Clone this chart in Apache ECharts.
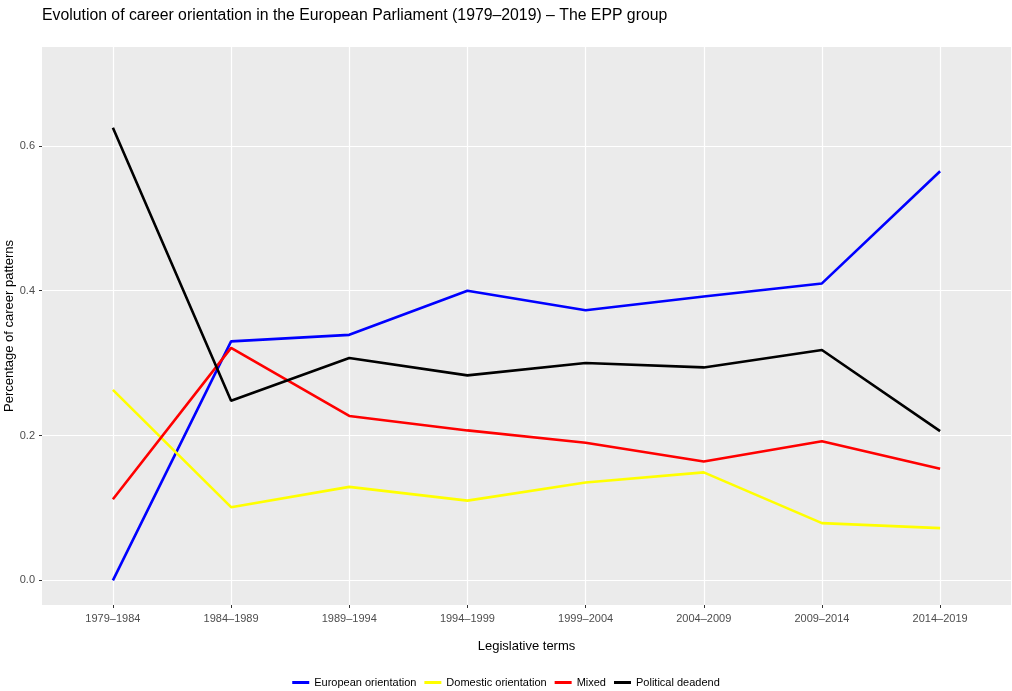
<!DOCTYPE html>
<html>
<head>
<meta charset="utf-8">
<script src="https://cdn.jsdelivr.net/npm/echarts@6/dist/echarts.min.js"></script>
<style>
html,body{margin:0;padding:0;background:#fff;}
#chart{width:1012px;height:691px;}
</style>
</head>
<body>
<div id="chart"></div>
<script>
const terms = ['1979\u20131984','1984\u20131989','1989\u20131994','1994\u20131999','1999\u20132004','2004\u20132009','2009\u20132014','2014\u20132019'];
const european = [0.000, 0.330, 0.339, 0.400, 0.373, 0.392, 0.410, 0.565];
const domestic = [0.263, 0.101, 0.129, 0.110, 0.135, 0.149, 0.079, 0.072];
const mixed    = [0.112, 0.321, 0.227, 0.207, 0.190, 0.164, 0.192, 0.154];
const deadend  = [0.625, 0.248, 0.307, 0.283, 0.300, 0.294, 0.318, 0.206];
const yTicks = [0, 0.2, 0.4, 0.6];
const yTickLabels = ['0.0', '0.2', '0.4', '0.6'];

const seriesDefs = [
  {name: 'European orientation', data: european, color: '#0000FF'},
  {name: 'Domestic orientation', data: domestic, color: '#FFFF00'},
  {name: 'Mixed', data: mixed, color: '#FF0000'},
  {name: 'Political deadend', data: deadend, color: '#000000'}
];

const font = 'Liberation Sans, Arial, Helvetica, sans-serif';
const chart = echarts.init(document.getElementById('chart'), null, {renderer: 'canvas'});
chart.setOption({
  animation: false,
  backgroundColor: '#FFFFFF',
  title: {
    text: 'Evolution of career orientation in the European Parliament (1979\u20132019) \u2013 The EPP group',
    left: 37, top: 3,
    textStyle: {fontFamily: font, fontSize: 15.8, fontWeight: 'normal', color: '#000'}
  },
  grid: {left: 42, right: 1, top: 47, bottom: 86, show: true, backgroundColor: '#EBEBEB', borderWidth: 0, containLabel: false, outerBoundsMode: 'none'},
  legend: {
    top: 672, left: 'center',
    itemWidth: 17, itemHeight: 3, itemGap: 8,
    icon: 'rect',
    textStyle: {fontFamily: font, fontSize: 11, color: '#000'},
    data: seriesDefs.map(s => s.name)
  },
  xAxis: {
    type: 'value', min: -0.6, max: 7.6,
    name: 'Legislative terms', nameLocation: 'middle', nameGap: 35, nameMoveOverlap: false,
    nameTextStyle: {fontFamily: font, fontSize: 13, color: '#000'},
    axisLine: {show: false, onZero: false},
    axisTick: {show: true, inside: false, length: 3, customValues: terms.map((t, i) => i), lineStyle: {color: '#333333', width: 1}},
    axisLabel: {customValues: terms.map((t, i) => i), formatter: v => terms[Math.round(v)], fontFamily: font, fontSize: 11, color: '#4D4D4D', margin: 8},
    splitLine: {show: true, lineStyle: {color: '#FFFFFF', width: 1.2}}
  },
  yAxis: {
    type: 'value', min: -0.0341, max: 0.7365,
    name: 'Percentage of career patterns', nameLocation: 'middle', nameGap: 26, nameRotate: 90, nameMoveOverlap: false,
    nameTextStyle: {fontFamily: font, fontSize: 13, color: '#000'},
    axisLine: {show: false, onZero: false},
    axisTick: {show: true, inside: false, length: 3, customValues: yTicks, lineStyle: {color: '#333333', width: 1}},
    axisLabel: {customValues: yTicks, formatter: v => yTickLabels[yTicks.findIndex(t => Math.abs(t - v) < 1e-6)], fontFamily: font, fontSize: 11, color: '#4D4D4D', margin: 7},
    splitLine: {show: true, lineStyle: {color: '#FFFFFF', width: 1.2}}
  },
  series: seriesDefs.map(s => ({
    name: s.name, type: 'line',
    data: s.data.map((v, i) => [i, v]),
    showSymbol: false, symbol: 'none',
    lineStyle: {color: s.color, width: 2.6},
    itemStyle: {color: s.color},
    silent: true
  }))
});
</script>
</body>
</html>
